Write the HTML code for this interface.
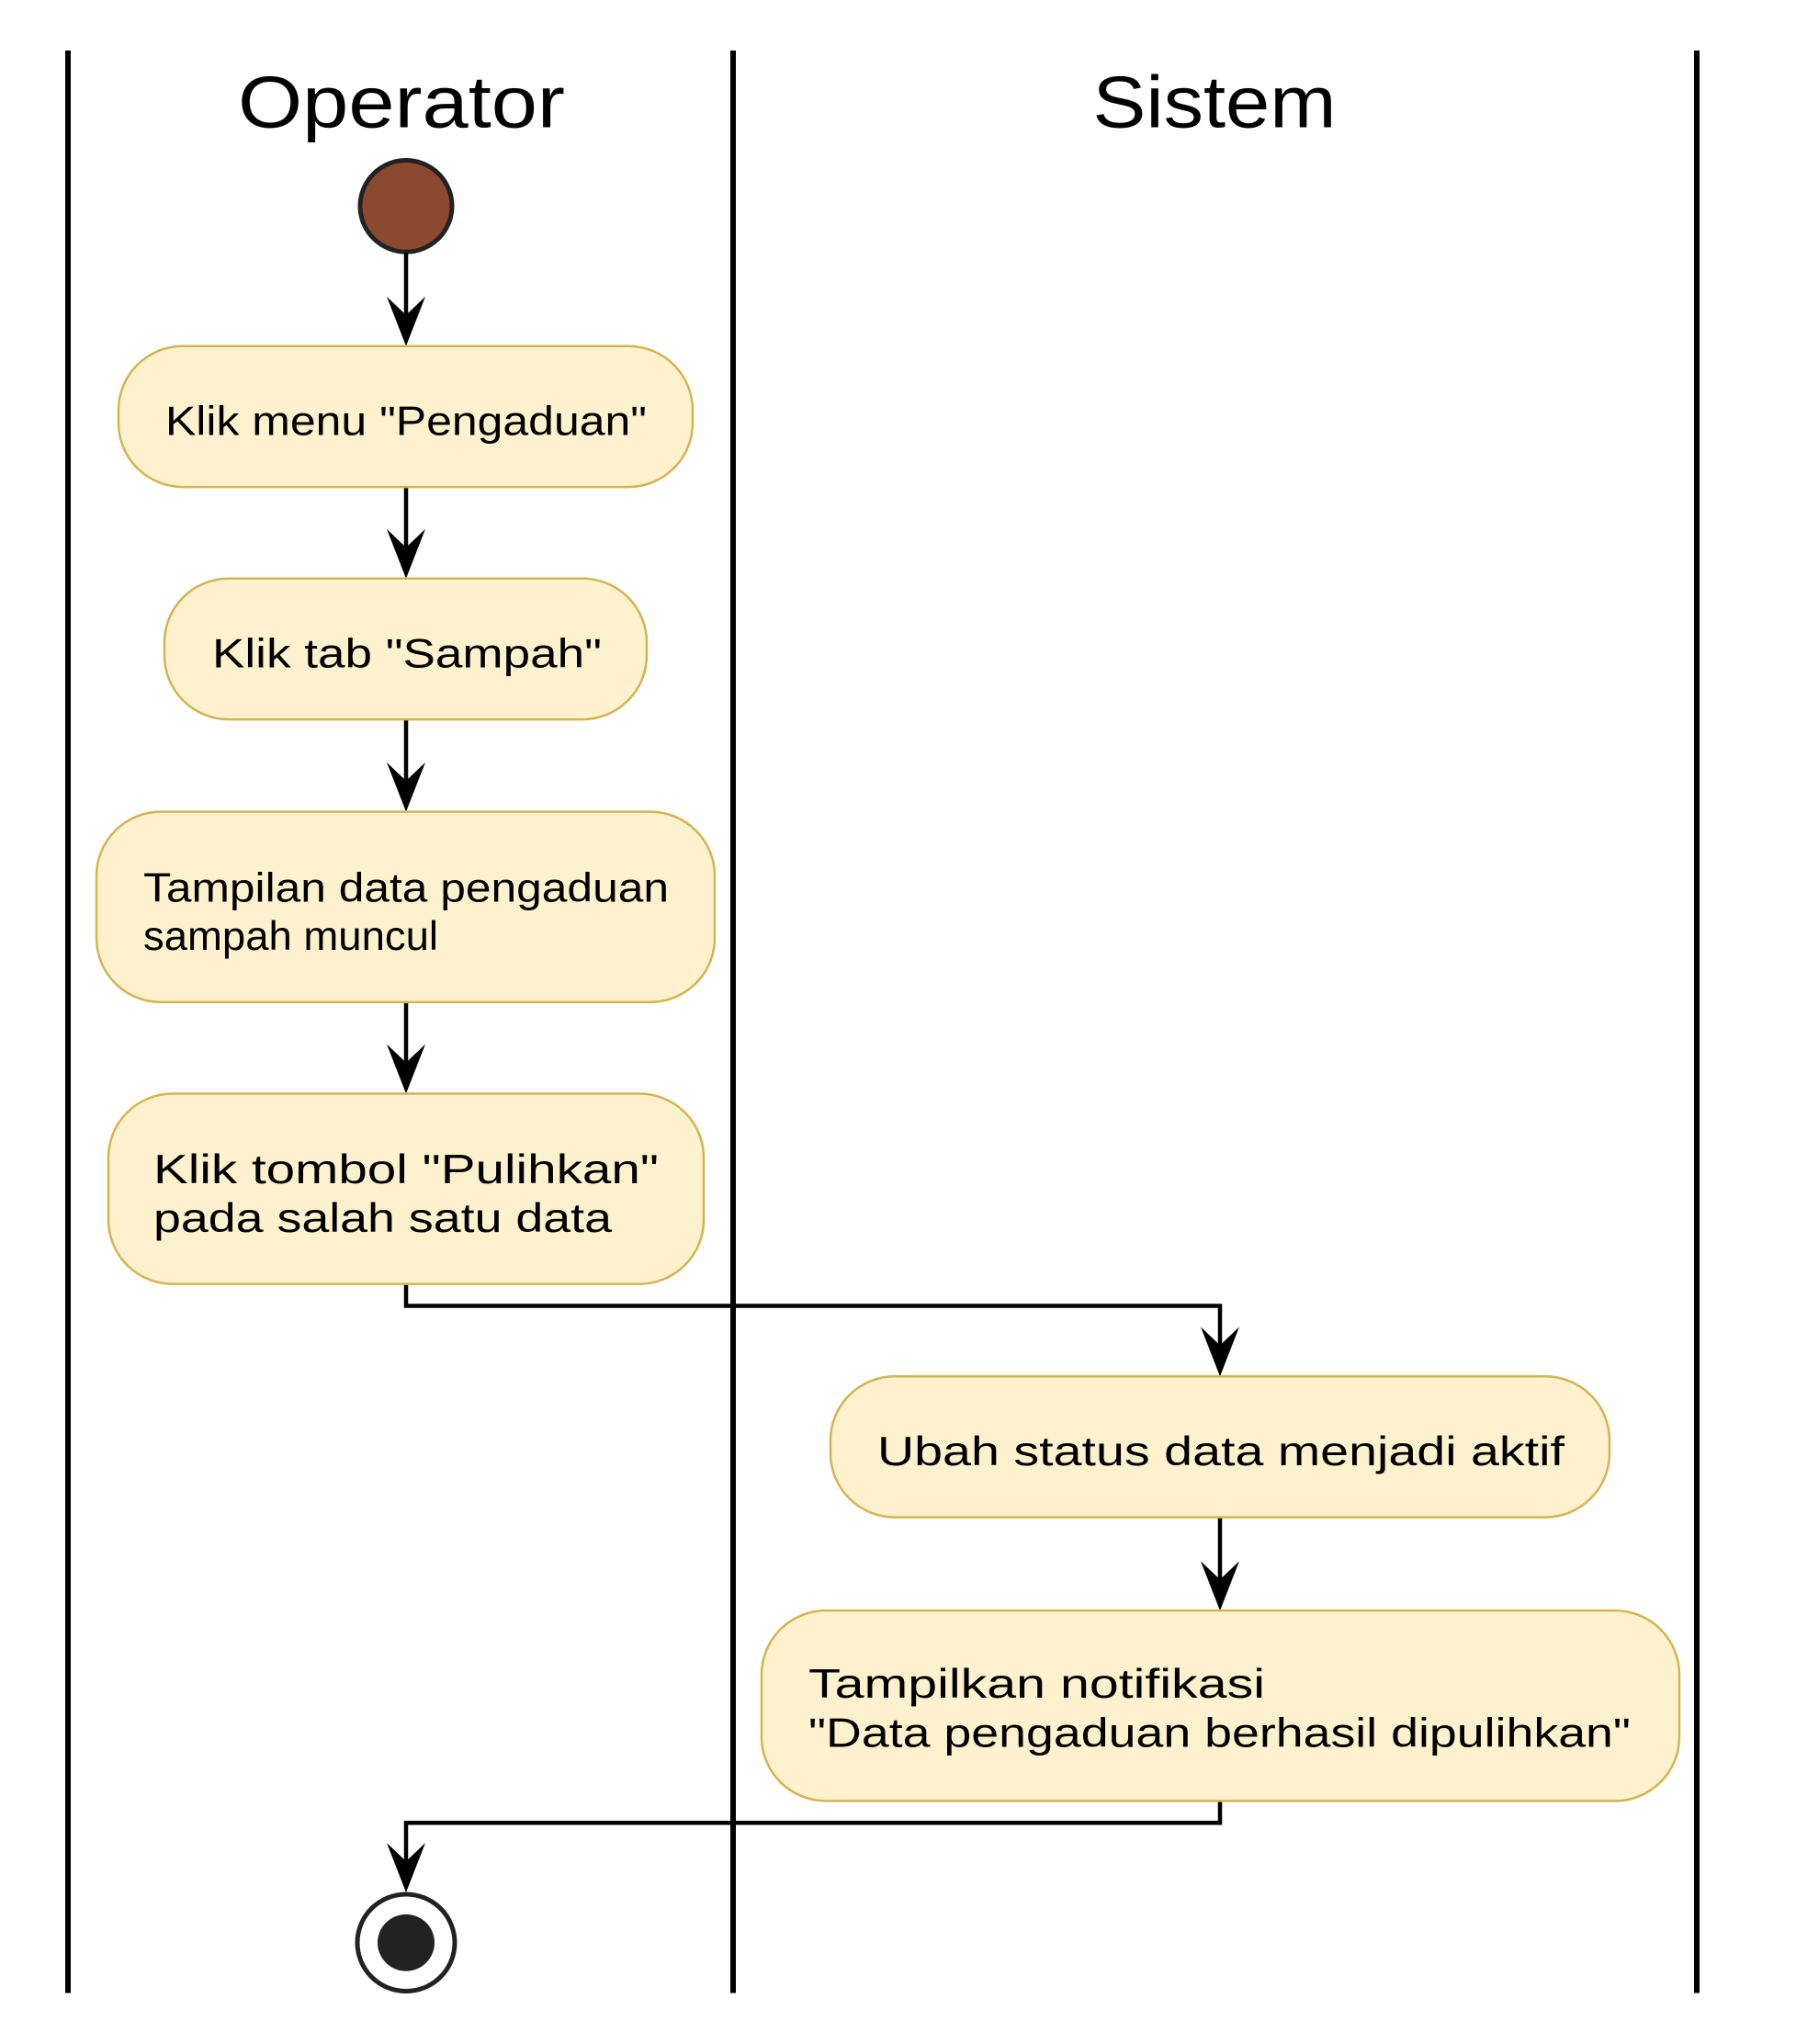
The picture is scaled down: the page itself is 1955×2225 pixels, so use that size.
<!DOCTYPE html>
<html><head><style>html,body{margin:0;padding:0;background:#fff;}svg{display:block;}</style></head>
<body>
<svg width="1955" height="2225" viewBox="0 0 1955 2225" xmlns="http://www.w3.org/2000/svg" font-family="Liberation Sans, Arial, sans-serif">
<defs>
<polygon id="ah" points="0,0 -21,-54 0,-34 21,-54" fill="#000"/>
</defs>
<g transform="translate(0,0.23) scale(1,0.996)">
<g stroke="#000" stroke-width="6">
<line x1="74" y1="55" x2="74" y2="2178"/>
<line x1="798" y1="55" x2="798" y2="2178"/>
<line x1="1847" y1="55" x2="1847" y2="2178"/>
</g>
<text x="437" y="139" font-size="80" text-anchor="middle" textLength="356" lengthAdjust="spacingAndGlyphs">Operator</text>
<text x="1322" y="139" font-size="80" text-anchor="middle" textLength="265" lengthAdjust="spacingAndGlyphs">Sistem</text>
<circle cx="442" cy="225" r="50" fill="#8b4a2f" stroke="#222" stroke-width="5"/>
<g stroke="#000" stroke-width="4.5" fill="none">
<line x1="442" y1="276" x2="442" y2="372"/>
<line x1="442" y1="532" x2="442" y2="626"/>
<line x1="442" y1="786" x2="442" y2="881"/>
<line x1="442" y1="1095" x2="442" y2="1189"/>
<polyline points="442,1403 442,1427 1328,1427 1328,1498"/>
<line x1="1328" y1="1658" x2="1328" y2="1754"/>
<polyline points="1328,1968 1328,1992 442,1992 442,2062"/>
</g>
<use href="#ah" x="442" y="378"/>
<use href="#ah" x="442" y="632"/>
<use href="#ah" x="442" y="887"/>
<use href="#ah" x="442" y="1195"/>
<use href="#ah" x="1328" y="1504"/>
<use href="#ah" x="1328" y="1760"/>
<use href="#ah" x="442" y="2068"/>
<g fill="#fef2ce" stroke="#d4b452" stroke-width="2.5">
<rect x="129" y="378" width="625" height="154" rx="70"/>
<rect x="179" y="632" width="525" height="154" rx="70"/>
<rect x="105" y="887" width="673" height="208" rx="70"/>
<rect x="118" y="1195" width="648" height="208" rx="70"/>
<rect x="904" y="1504" width="848" height="154" rx="70"/>
<rect x="829" y="1760" width="999" height="208" rx="70"/>
</g>
<g font-size="45" fill="#000">
<text x="180" y="475" textLength="524" lengthAdjust="spacingAndGlyphs">Klik menu "Pengaduan"</text>
<text x="231" y="729" textLength="424" lengthAdjust="spacingAndGlyphs">Klik tab "Sampah"</text>
<text x="156" y="985" textLength="572" lengthAdjust="spacingAndGlyphs">Tampilan data pengaduan</text>
<text x="156" y="1038" textLength="321" lengthAdjust="spacingAndGlyphs">sampah muncul</text>
<text x="167" y="1293" textLength="550" lengthAdjust="spacingAndGlyphs">Klik tombol "Pulihkan"</text>
<text x="167" y="1346" textLength="499" lengthAdjust="spacingAndGlyphs">pada salah satu data</text>
<text x="955" y="1601" textLength="748" lengthAdjust="spacingAndGlyphs">Ubah status data menjadi aktif</text>
<text x="880" y="1855" textLength="497" lengthAdjust="spacingAndGlyphs">Tampilkan notifikasi</text>
<text x="880" y="1909" textLength="895" lengthAdjust="spacingAndGlyphs">"Data pengaduan berhasil dipulihkan"</text>
</g>
<circle cx="442" cy="2123" r="53" fill="#fff" stroke="#222" stroke-width="5"/>
<circle cx="442" cy="2123" r="31" fill="#222"/>
</g>
</svg>
</body></html>
